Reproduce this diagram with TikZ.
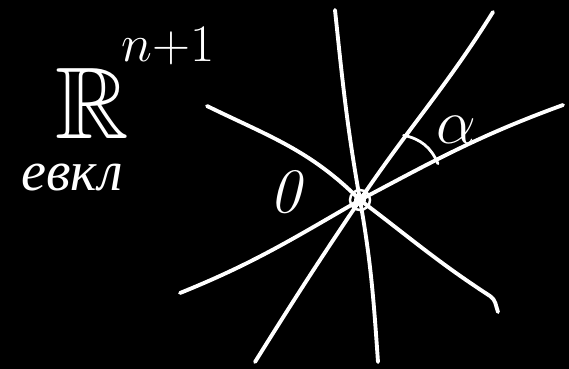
\RequirePackage{fix-cm}
\documentclass[tikz,border=0pt]{standalone}
\usepackage{amsmath,amssymb}
\usepackage{fontspec}
\newfontfamily\cyrfont{Liberation Serif}
\usepackage{tikz}
\usetikzlibrary{calc,positioning}

\tikzset{
	stroke/.style={white, line width=2.2pt, line cap=round, line join=round},
	lbl/.style={text=white, inner sep=0pt},
}

\begin{document}
\begin{tikzpicture}[x=0.02cm, y=0.02cm]
	\fill[black] (0, 0) rectangle (569, -369);

	\coordinate (origin) at (360, -200);

	% ends of the lines through the origin
	\coordinate (vtop) at (335, -10);
	\coordinate (vbot) at (378, -362);
	\coordinate (ul) at (207, -106);
	\coordinate (lrb) at (490, -296);
	\coordinate (lr) at (498, -312);
	\coordinate (ur) at (493, -12);
	\coordinate (bl) at (255, -362);
	\coordinate (rt) at (563, -105);
	\coordinate (lf) at (180, -293);

	\draw[stroke] (vtop) to[out=-84, in=100] (origin) to[out=-80, in=94] (vbot);
	\draw[stroke] (ul) to[out=-26, in=135] (origin) to[out=-37, in=147] (lrb) to[out=-33, in=110] (lr);
	\draw[stroke] (ur) to[out=-122, in=56] (origin) to[out=-124, in=58] (bl);
	\draw[stroke] (rt) to[out=-160, in=28] (origin) to[out=-150, in=22] (lf);

	% the angle between two of them
	\coordinate (a1) at ($(origin) + (56:78)$);
	\coordinate (a2) at ($(origin) + (25:86)$);
	\draw[stroke, line width=1.6pt] (a1) to[bend left=28] (a2);

	%\draw[stroke] (origin) circle (10);
	\draw[white, line width=1.4pt] (origin) circle (10);
	\fill[white] (origin) circle (6);

	\node[lbl] (space) at (92, -103) {\fontsize{58}{58}\selectfont$\mathbb{R}$};
	\node[lbl] (power) at (168, -46) {\fontsize{30}{30}\selectfont$n{+}1$};
	\node[lbl] (eucl) at (72, -177) {\fontsize{32}{32}\selectfont\cyrfont\itshape евкл};
	\node[lbl] (zero) at (287, -192) {\fontsize{36}{36}\selectfont\textit{0}};
	\node[lbl] (alpha) at (456, -130) {\fontsize{36}{36}\selectfont$\alpha$};
\end{tikzpicture}
\end{document}
